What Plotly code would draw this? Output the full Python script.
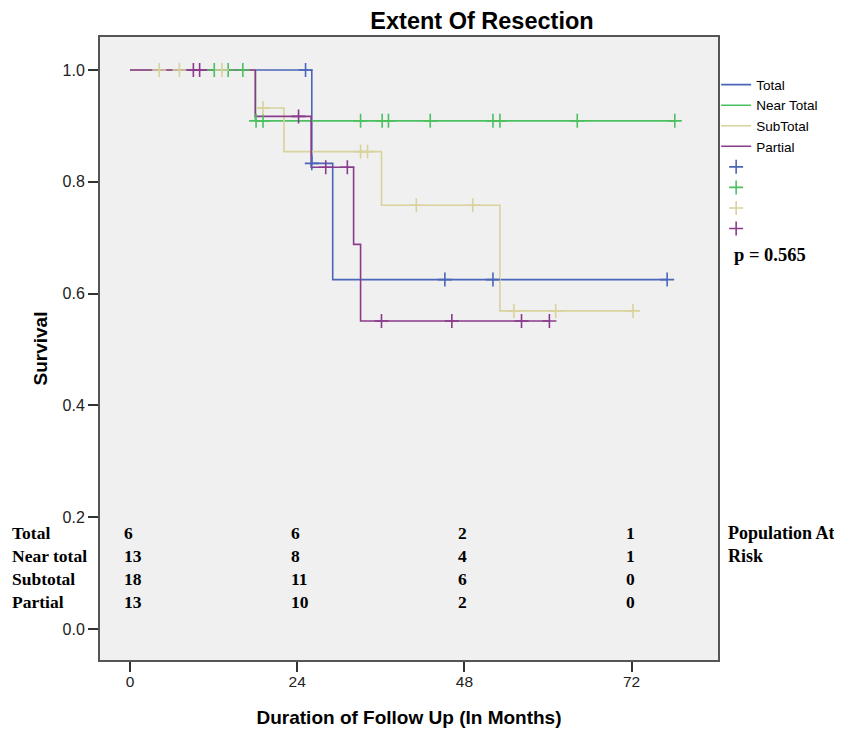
import numpy as np
import plotly.graph_objects as go

# ---------------- data ----------------
groups = ["Total", "Near Total", "SubTotal", "Partial"]

# step-change times (months) and survival after each change
total_t = [0, 26.1, 29.1]
total_s = [1.0, 0.833, 0.625]
near_t = [0, 18.0]
near_s = [1.0, 0.909]
sub_t = [0, 18.0, 22.1, 36.1, 53.1]
sub_s = [1.0, 0.932, 0.854, 0.758, 0.569]
partial_t = [0, 18.0, 26.0, 32.1, 33.1]
partial_s = [1.0, 0.917, 0.826, 0.688, 0.551]

# censored observation times (months)
total_cens = [25.2, 26.1, 45.2, 52.1, 77.1]
near_cens = [12.1, 14.1, 16.2, 18.1, 19.1, 33.1, 36.2, 37.1, 43.1, 52.1, 53.1, 64.2, 78.2]
sub_cens = [4.2, 7.1, 13.2, 19.1, 33.1, 34.1, 41.1, 49.2, 55.1, 61.1, 72.2]
partial_cens = [9.1, 10.0, 24.2, 28.1, 31.2, 36.1, 46.2, 56.2, 60.2]

# population at risk table
risk_times = [0, 24, 48, 72]
risk_labels = ["Total", "Near total", "Subtotal", "Partial"]
risk_total = [6, 6, 2, 1]
risk_near = [13, 8, 4, 1]
risk_sub = [18, 11, 6, 0]
risk_partial = [13, 10, 2, 0]

x_ticks = [0, 24, 48, 72]
y_ticks = [0.0, 0.2, 0.4, 0.6, 0.8, 1.0]
p_value = "p = 0.565"

# ---------------- styling ----------------
colors = ["#4a66b8", "#4cc061", "#d8d29c", "#8a3a8c"]
SANS = "Liberation Sans, Arial, sans-serif"
SERIF = "Liberation Serif, Times New Roman, serif"

# the page body adds an 8px margin at left/top, so the figure is 8px smaller
W, H = 834, 723

steps = [(total_t, total_s), (near_t, near_s), (sub_t, sub_s), (partial_t, partial_s)]
cens = [total_cens, near_cens, sub_cens, partial_cens]
risks = [risk_total, risk_near, risk_sub, risk_partial]

fig = go.Figure()

# step lines
for name, (t, s), c, col in zip(groups, steps, cens, colors):
    end = max(max(c), t[-1])
    xs = list(t) + [end]
    ys = list(s) + [s[-1]]
    fig.add_trace(go.Scatter(x=xs, y=ys, mode="lines", line=dict(color=col, width=1.6, shape="hv"),
                             name=name, hoverinfo="skip"))

# censor marks
for name, (t, s), c, col in zip(groups, steps, cens, colors):
    idx = np.searchsorted(np.array(t), np.array(c), side="right") - 1
    yc = np.array(s)[idx]
    fig.add_trace(go.Scatter(x=c, y=yc, mode="markers", name=" ",
                             marker=dict(symbol="cross-thin", size=10, color=col,
                                         line=dict(width=1.6, color=col)),
                             hoverinfo="skip"))

# at-risk annotations
row_top = 0.2039
row_step = 0.0369
for i, (lab, vals) in enumerate(zip(risk_labels, risks)):
    yy = row_top - i * row_step
    fig.add_annotation(x=-0.1450, y=yy, xref="paper", yref="paper", text=f"<b>{lab}</b>",
                       showarrow=False, xanchor="left", yanchor="middle",
                       font=dict(family=SERIF, size=17.5, color="black"))
    for tt, v in zip(risk_times, vals):
        fig.add_annotation(x=tt, y=yy, xref="x", yref="paper", text=f"<b>{v}</b>",
                           showarrow=False, xanchor="left", yanchor="middle", xshift=-8,
                           font=dict(family=SERIF, size=17.5, color="black"))

fig.add_annotation(x=1.0125, y=row_top, xref="paper", yref="paper",
                   text="<b>Population At</b>", showarrow=False, xanchor="left", yanchor="middle",
                   font=dict(family=SERIF, size=18, color="black"))
fig.add_annotation(x=1.0125, y=row_top - row_step, xref="paper", yref="paper",
                   text="<b>Risk</b>", showarrow=False, xanchor="left", yanchor="middle",
                   font=dict(family=SERIF, size=18, color="black"))
fig.add_annotation(x=1.022, y=0.650, xref="paper", yref="paper",
                   text=f"<b>{p_value}</b>", showarrow=False, xanchor="left", yanchor="middle",
                   font=dict(family=SERIF, size=18.5, color="black"))

fig.update_layout(
    width=W, height=H,
    margin=dict(l=92, r=124, t=29, b=71, autoexpand=False),
    paper_bgcolor="white", plot_bgcolor="#f0f0f0",
    title=dict(text="<b>Extent Of Resection</b>", x=474 / W, xanchor="center",
               y=1 - 13 / H, yanchor="middle", font=dict(family=SANS, size=23.5, color="black")),
    showlegend=True,
    legend=dict(x=0.997, xanchor="left", y=0.948, yanchor="top", bgcolor="rgba(0,0,0,0)",
                font=dict(family=SANS, size=13.5, color="black"), tracegroupgap=0,
                itemwidth=30),
    font=dict(family=SANS),
)

fig.update_xaxes(range=[-4.3, 84.4], tickvals=x_ticks, ticktext=[str(v) for v in x_ticks],
                 ticks="outside", ticklen=10, tickwidth=1.5, tickcolor="#333",
                 showgrid=False, zeroline=False, showline=True, mirror=True,
                 linecolor="#555", linewidth=2, automargin=False, ticklabelstandoff=-4,
                 tickfont=dict(family=SANS, size=15.5, color="#222"),
                 title=dict(text="<b>Duration of Follow Up (In Months)</b>", standoff=22,
                            font=dict(family=SANS, size=19, color="black")))
fig.update_yaxes(range=[-0.0555, 1.059], tickvals=y_ticks, ticktext=[f"{v:.1f}" for v in y_ticks],
                 ticks="outside", ticklen=10, tickwidth=1.5, tickcolor="#333",
                 showgrid=False, zeroline=False, showline=True, mirror=True,
                 linecolor="#555", linewidth=2, automargin=False,
                 tickfont=dict(family=SANS, size=16, color="#222"),
                 title=dict(text="<b>Survival</b>", standoff=10,
                            font=dict(family=SANS, size=19, color="black")))

fig.write_html("out.html")
